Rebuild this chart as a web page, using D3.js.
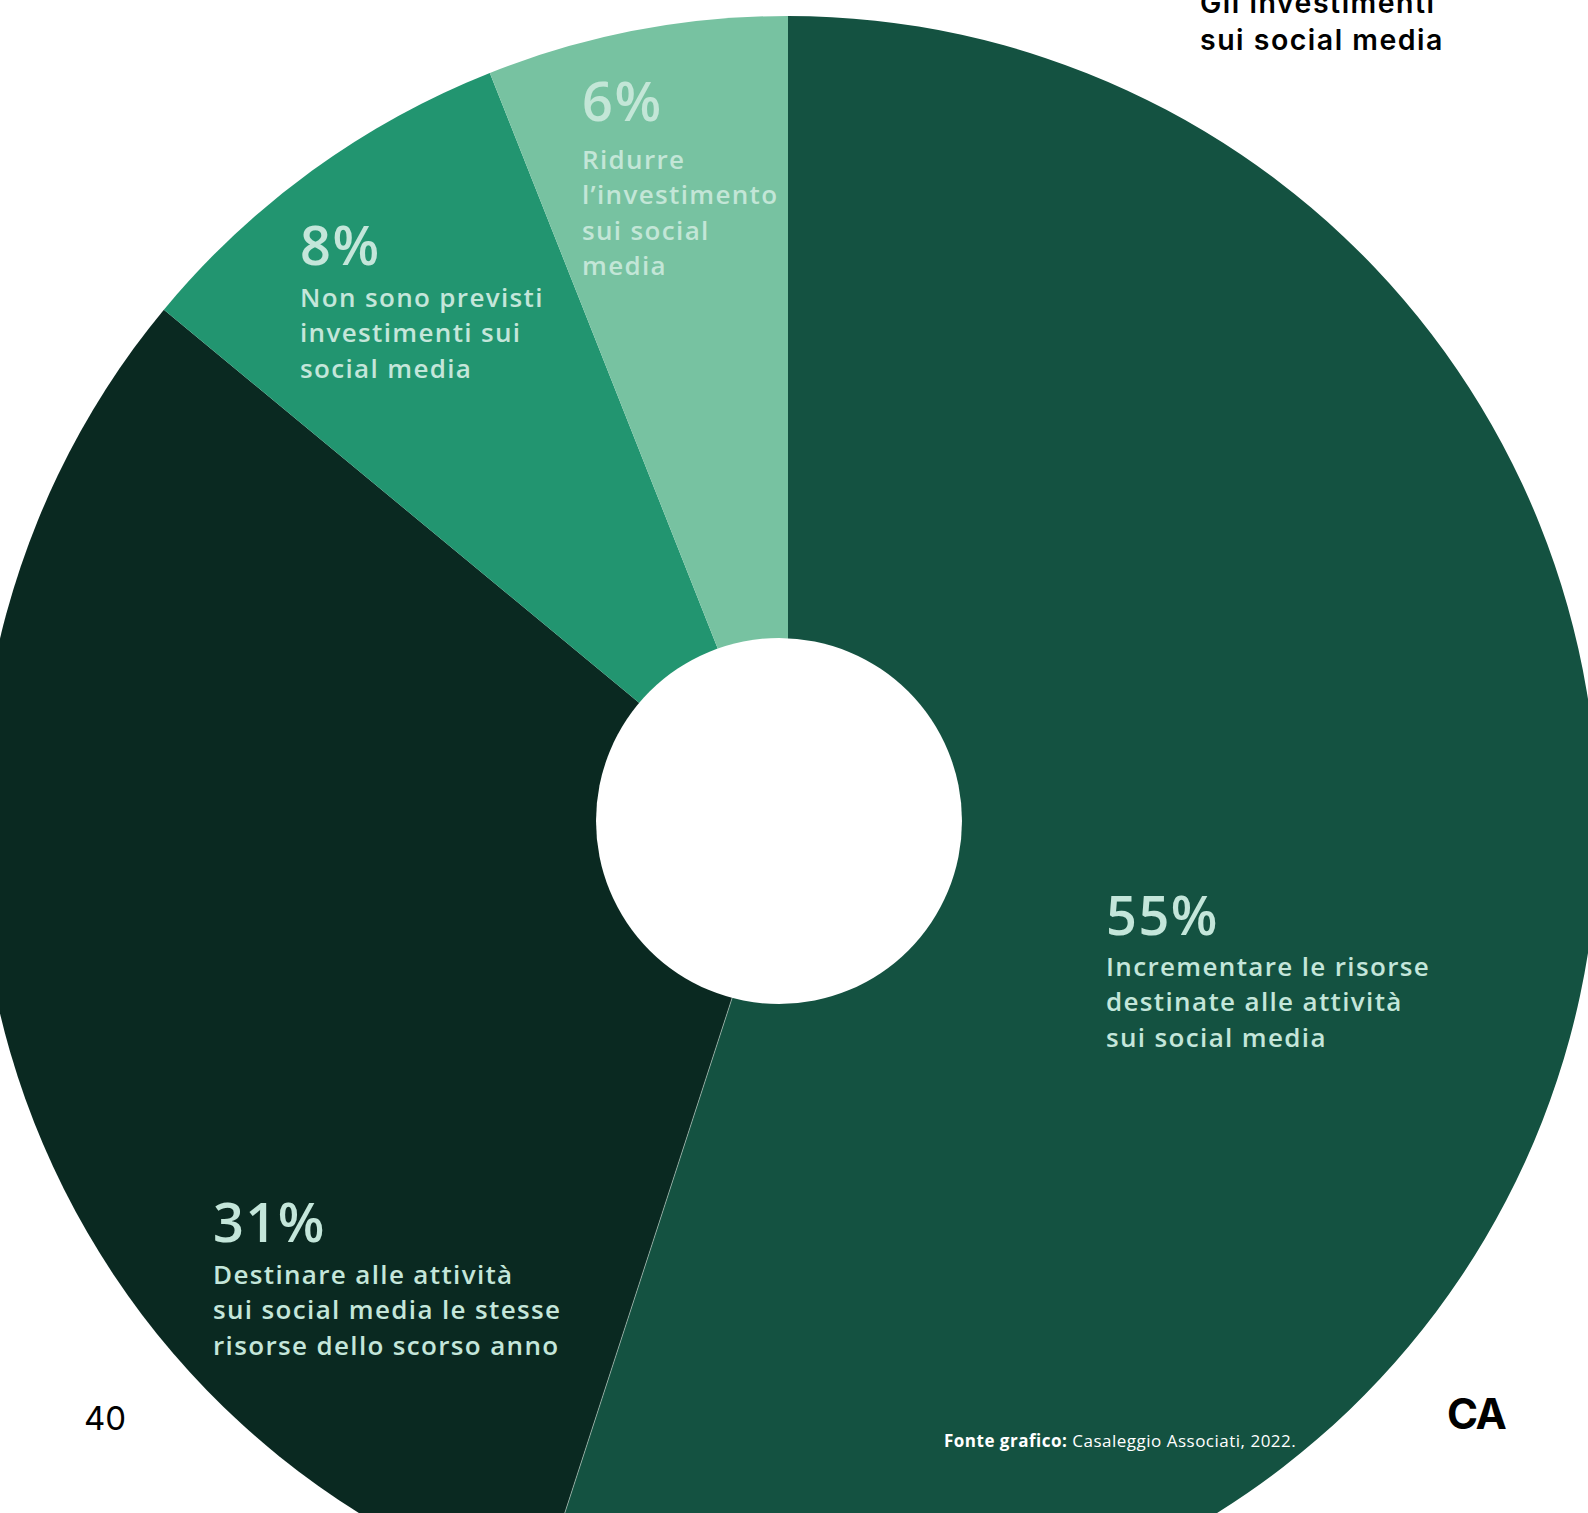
<!DOCTYPE html>
<html lang="it">
<head>
<meta charset="utf-8">
<title>Gli investimenti sui social media</title>
<script src="https://cdn.jsdelivr.net/npm/d3@7/dist/d3.min.js"></script>
<style>
  html, body { margin: 0; padding: 0; background: #ffffff; }
  svg { display: block; }
</style>
</head>
<body>
<svg id="chart" width="1588" height="1513"></svg>
<script>
// Survey answers: planned change in social media investment
const categories = [
  "Incrementare le risorse destinate alle attività sui social media",
  "Destinare alle attività sui social media le stesse risorse dello scorso anno",
  "Non sono previsti investimenti sui social media",
  "Ridurre l’investimento sui social media"
];
const values = [55, 31, 8, 6];
const valueLabels = ["55%", "31%", "8%", "6%"];
// Line breaks used for each slice description
const labelLines = [
  ["Incrementare le risorse", "destinate alle attività", "sui social media"],
  ["Destinare alle attività", "sui social media le stesse", "risorse dello scorso anno"],
  ["Non sono previsti", "investimenti sui", "social media"],
  ["Ridurre", "l’investimento", "sui social", "media"]
];
const titleLines = ["Gli investimenti", "sui social media"];

const W = 1588, H = 1513;
const cx = 788, cy = 826, outerR = 810;
const hole = { x: 779, y: 821, r: 183 };

const svg = d3.select("#chart");

const color = d3.scaleOrdinal()
  .domain(categories)
  .range(["#145241", "#0a2921", "#229570", "#77c2a1"]);

const pie = d3.pie().value(d => d.value).sort(null);
const arcs = pie(categories.map((c, i) => ({ category: c, value: values[i], label: valueLabels[i], lines: labelLines[i] })));
const arc = d3.arc().innerRadius(0).outerRadius(outerR);

const g = svg.append("g").attr("transform", `translate(${cx},${cy})`);

g.selectAll("path.slice")
  .data(arcs)
  .join("path")
  .attr("class", "slice")
  .attr("d", arc)
  .attr("fill", d => color(d.data.category));

// faint seam along the edge between the two largest slices
const seamAngle = arcs[0].endAngle;
g.append("line")
  .attr("x1", 0).attr("y1", 0)
  .attr("x2", Math.sin(seamAngle) * outerR)
  .attr("y2", -Math.cos(seamAngle) * outerR)
  .attr("stroke", "#b9cfc6")
  .attr("stroke-width", 0.8)
  .attr("stroke-opacity", 0.8);

// central hole
svg.append("circle")
  .attr("cx", hole.x).attr("cy", hole.y).attr("r", hole.r)
  .attr("fill", "#ffffff");

// slice labels: anchor of each label block and gap to its first description line
const labelPos = [
  { x: 1106, y: 935, gap: 41 },
  { x: 213, y: 1242, gap: 42 },
  { x: 300, y: 265, gap: 42 },
  { x: 582, y: 121, gap: 48 }
];
const labelColor = ["#c4e6da", "#c4e6da", "#c4e6da", "#c3e6d7"];

arcs.forEach((d, i) => {
  const p = labelPos[i];
  const lg = svg.append("g").attr("class", "slice-label");
  lg.append("text")
    .attr("x", p.x).attr("y", p.y)
    .attr("font-family", "'Open Sans', 'Noto Sans', sans-serif")
    .attr("font-weight", 600)
    .attr("font-size", 54)
    .attr("letter-spacing", 1.5)
    .attr("fill", labelColor[i])
    .text(d.data.label);
  const t = lg.append("text")
    .attr("font-family", "'Open Sans', 'Noto Sans', sans-serif")
    .attr("font-weight", 600)
    .attr("font-size", 26)
    .attr("letter-spacing", 1.35)
    .attr("fill", labelColor[i]);
  d.data.lines.forEach((line, j) => {
    t.append("tspan")
      .attr("x", p.x)
      .attr("y", p.y + p.gap + j * 35.3)
      .text(line);
  });
});

// title
const title = svg.append("text")
  .attr("font-family", "Inter, 'Liberation Sans', sans-serif")
  .attr("font-weight", 600)
  .attr("font-size", 28.5)
  .attr("letter-spacing", 1.5)
  .attr("fill", "#000000");
titleLines.forEach((line, j) => {
  title.append("tspan").attr("x", 1200).attr("y", 13 + j * 37).text(line);
});

// source note
const src = svg.append("text")
  .attr("x", 944).attr("y", 1447)
  .attr("font-family", "'Open Sans', 'Noto Sans', sans-serif")
  .attr("font-size", 17)
  .attr("letter-spacing", 0.5)
  .attr("fill", "#ffffff");
src.append("tspan").attr("font-weight", 700).text("Fonte grafico:");
src.append("tspan").attr("font-weight", 400).text(" Casaleggio Associati, 2022.");

// page number and logo
svg.append("text")
  .attr("x", 84).attr("y", 1430)
  .attr("font-family", "Inter, 'Liberation Sans', sans-serif")
  .attr("font-weight", 400)
  .attr("font-size", 33)
  .attr("fill", "#000000")
  .text("40");

svg.append("text")
  .attr("x", 1447).attr("y", 1429)
  .attr("font-family", "Inter, 'Liberation Sans', sans-serif")
  .attr("font-weight", 700)
  .attr("font-size", 42)
  .attr("letter-spacing", -1.5)
  .attr("fill", "#000000")
  .text("CA");
</script>
</body>
</html>
